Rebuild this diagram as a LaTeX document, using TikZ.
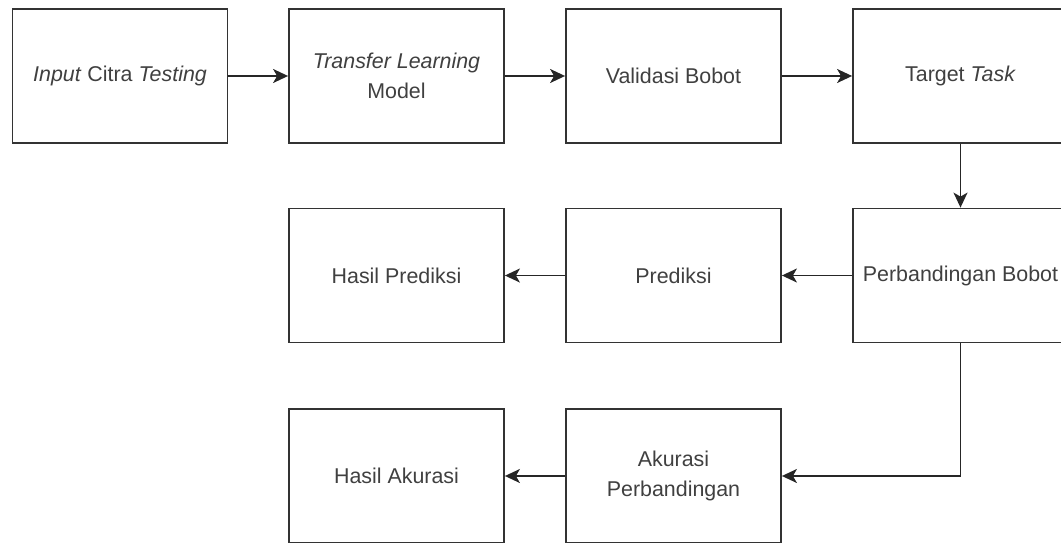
\documentclass[tikz,border=0pt]{standalone}
\usepackage{fontspec}
\setmainfont{Liberation Sans}
\usetikzlibrary{arrows.meta, positioning}

\begin{document}
\begin{tikzpicture}[x=1pt, y=-1pt, >={Stealth[length=15pt, width=14pt, inset=4pt]},
		kotak/.style={draw=black!80, line width=1.8pt, rectangle, fill=white,
			minimum width=215pt, minimum height=134pt, inner sep=0pt,
			align=center, text=black!75,
			font=\fontsize{21.4pt}{30pt}\selectfont},
		panah/.style={->, draw=black!85, line width=1.8pt}]
	% === BINGKAI ===
	\useasboundingbox (0,0) rectangle (1061,543);
	\clip (0,0) rectangle (1061,543);
	
	% === BARIS 1 ===
	\node[kotak] (input) at (120,76) {\textit{Input} Citra \textit{Testing}};
	\node[kotak] (transfer) at (396.5,76) {\textit{Transfer Learning}\\Model};
	\node[kotak] (validasi) at (673.5,76) {Validasi Bobot};
	\node[kotak] (target) at (960.5,76) {Target \textit{Task}};
	
	% === BARIS 2 ===
	\node[kotak] (banding) at (960.5,275.5) {Perbandingan Bobot};
	\node[kotak] (prediksi) at (673.5,275.5) {Prediksi};
	\node[kotak] (hasilpred) at (396.5,275.5) {Hasil Prediksi};
	
	% === BARIS 3 ===
	\node[kotak] (akurasi) at (673.5,476) {Akurasi\\Perbandingan};
	\node[kotak] (hasilakr) at (396.5,476) {Hasil Akurasi};
	
	% === PANAH ===
	\draw[panah] (input) -- (transfer);
	\draw[panah] (transfer) -- (validasi);
	\draw[panah] (validasi) -- (target);
	\draw[panah] (target) -- (banding);
	\draw[panah] (banding) -- (prediksi);
	\draw[panah] (prediksi) -- (hasilpred);
	\draw[panah] (banding.south) |- (akurasi.east);
	\draw[panah] (akurasi) -- (hasilakr);
\end{tikzpicture}
\end{document}
